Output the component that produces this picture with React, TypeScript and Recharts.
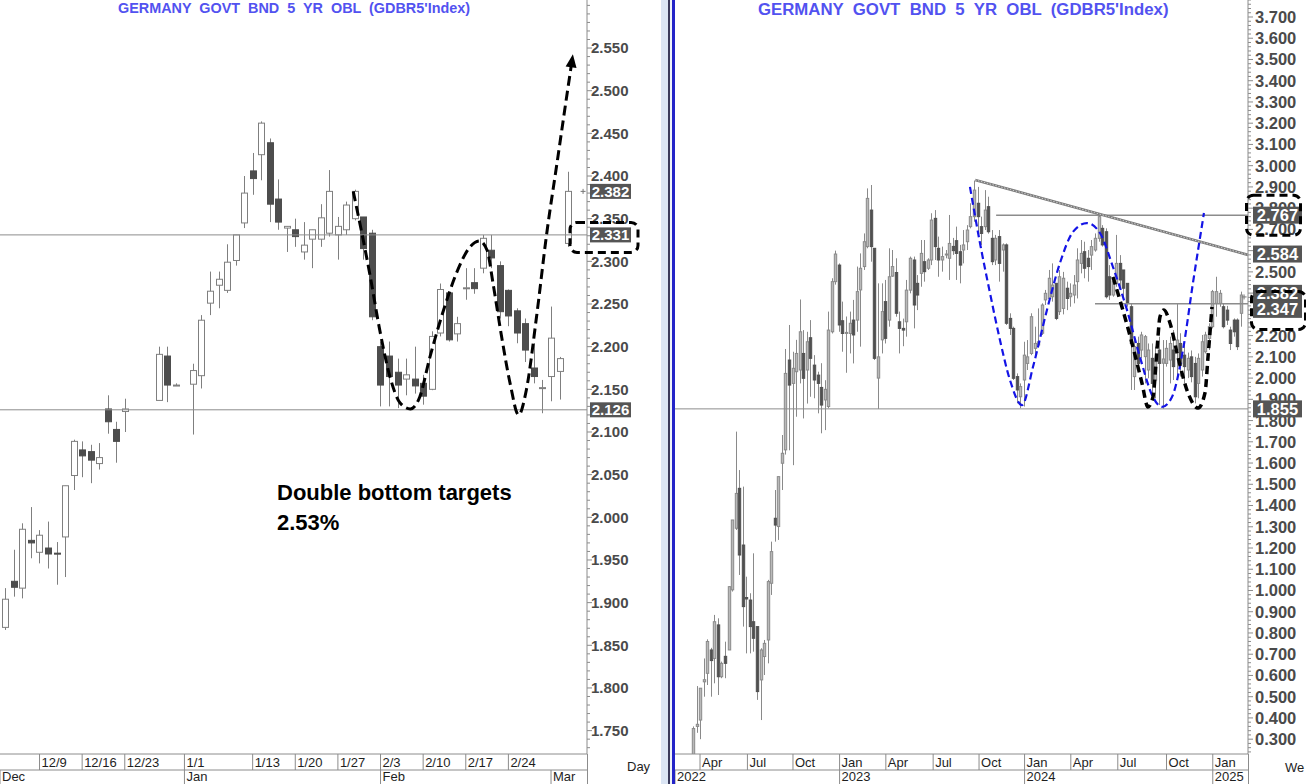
import React from "react";
import { ComposedChart, Bar, Line, XAxis, YAxis, ReferenceLine } from "recharts";

const FONT = '"Liberation Sans", Arial, Helvetica, sans-serif';
const AXIS_INK = "#4a4a4a";
const RULE = "#8c8c8c";
const TAG_BG = "#555555";
const TITLE_INK = "#5252f0";

// ---------- daily panel: session index 0 = Mon 2 Dec 2024, null = no print ----------
const dayOpen = [null, 1.871, 1.925, 1.917, 1.973, 1.959, 1.964, 1.958, 1.977, 2.049, 2.079, 2.077, 2.063, 2.127, 2.103, 2.124, null, null, null, 2.137, 2.189, 2.155, null, 2.156, 2.166, 2.251, 2.272, 2.266, 2.301, 2.345, 2.406, 2.425, 2.439, 2.373, 2.339, 2.337, 2.311, 2.326, 2.326, 2.333, 2.331, 2.337, 2.35, 2.352, 2.333, 2.2, 2.189, 2.17, 2.162, 2.162, 2.157, 2.15, 2.216, 2.263, 2.215, 2.268, 2.275, 2.292, 2.313, 2.295, 2.266, 2.242, 2.227, 2.175, 2.151, 2.165, 2.171, 2.321];
const dayHigh = [null, 1.917, 1.962, 1.993, 2.012, 1.985, 1.995, 1.971, 2.037, 2.091, 2.089, 2.085, 2.087, 2.143, 2.112, 2.139, null, null, null, 2.2, 2.2, 2.157, null, 2.18, 2.237, 2.288, 2.288, 2.32, 2.331, 2.4, 2.427, 2.464, 2.444, 2.396, 2.341, 2.35, 2.346, 2.337, 2.367, 2.407, 2.352, 2.37, 2.384, 2.352, 2.337, 2.206, 2.206, 2.186, 2.186, 2.2, 2.167, 2.218, 2.274, 2.264, 2.235, 2.292, 2.292, 2.331, 2.331, 2.3, 2.267, 2.245, 2.233, 2.204, 2.161, 2.247, 2.188, 2.405];
const dayLow = [null, 1.868, 1.907, 1.905, 1.952, 1.946, 1.94, 1.921, 1.93, 2.032, 2.047, 2.04, 2.056, 2.098, 2.064, 2.1, null, null, null, 2.137, 2.135, 2.154, null, 2.097, 2.151, 2.237, 2.245, 2.263, 2.295, 2.339, 2.378, 2.395, 2.346, 2.337, 2.311, 2.317, 2.302, 2.292, 2.317, 2.329, 2.302, 2.331, 2.348, 2.302, 2.231, 2.13, 2.13, 2.128, 2.143, 2.145, 2.132, 2.149, 2.212, 2.206, 2.206, 2.255, 2.262, 2.286, 2.292, 2.233, 2.224, 2.204, 2.182, 2.157, 2.122, 2.136, 2.138, 2.317];
const dayClose = [null, 1.904, 1.918, 1.986, 1.97, 1.979, 1.957, 1.957, 2.037, 2.089, 2.072, 2.067, 2.07, 2.112, 2.089, 2.127, null, null, null, 2.191, 2.155, 2.155, null, 2.172, 2.231, 2.265, 2.279, 2.299, 2.331, 2.38, 2.397, 2.462, 2.367, 2.346, 2.341, 2.329, 2.319, 2.337, 2.351, 2.382, 2.341, 2.366, 2.382, 2.315, 2.235, 2.155, 2.165, 2.155, 2.167, 2.154, 2.142, 2.212, 2.267, 2.208, 2.227, 2.269, 2.268, 2.327, 2.304, 2.241, 2.236, 2.216, 2.196, 2.165, 2.152, 2.21, 2.186, 2.382];

const dayTickPos = [5, 10, 15, 22, 30, 35, 40, 45, 50, 55, 60];
const dayTickLabel = ["12/9", "12/16", "12/23", "1/1", "1/13", "1/20", "1/27", "2/3", "2/10", "2/17", "2/24"];
const dayMonthPos = [0.364, 22, 45, 65];
const dayMonthLabel = ["Dec", "Jan", "Feb", "Mar"];
const dayYTicks = [1.75, 1.8, 1.85, 1.9, 1.95, 2.0, 2.05, 2.1, 2.15, 2.2, 2.25, 2.3, 2.35, 2.4, 2.45, 2.5, 2.55];
const dayYHidden: number[] = [];
const dayLevels = [2.331, 2.126];
const dayTags = [2.382, 2.331, 2.126];
const dayLast = { x: 67, y: 2.382 };

// hand-drawn double bottom sketch on the daily panel
const dayCurveX = [41.8, 43.8, 44.9, 46.1, 47.3, 48.5, 49.6, 50.8, 52.4, 53.9, 55.5, 56.6, 57.5, 58.2, 59.2, 60.2, 61.2, 62.1, 63.3, 64.5, 65.7, 66.6, 67.5];
const dayCurveY = [2.382, 2.282, 2.22, 2.165, 2.134, 2.127, 2.141, 2.188, 2.243, 2.286, 2.317, 2.324, 2.313, 2.274, 2.212, 2.157, 2.12, 2.149, 2.235, 2.333, 2.415, 2.477, 2.538];

// ---------- weekly panel: bar index 0 = week of 21 Mar 2022 ----------
const wkOpen = [0.22, 0.36, 0.39, 0.57, 0.61, 0.72, 0.68, 0.838, 0.594, 0.69, 0.72, 1.003, 1.293, 1.481, 1.214, 0.967, 0.955, 0.853, 0.83, 0.579, 0.689, 0.767, 1.034, 1.34, 1.301, 1.599, 1.662, 2.085, 1.975, 2.03, 2.038, 2.116, 2.038, 2.19, 2.061, 2.014, 1.956, 1.897, 1.866, 2.218, 2.454, 2.532, 2.27, 2.214, 2.21, 2.273, 2.273, 2.415, 2.525, 2.619, 2.791, 2.611, 2.0, 2.18, 2.36, 2.273, 2.48, 2.497, 2.265, 2.234, 2.265, 2.414, 2.556, 2.446, 2.493, 2.548, 2.517, 2.556, 2.752, 2.611, 2.556, 2.583, 2.564, 2.62, 2.647, 2.595, 2.603, 2.642, 2.713, 2.76, 2.823, 2.713, 2.713, 2.807, 2.658, 2.556, 2.666, 2.603, 2.627, 2.281, 2.234, 2.007, 1.912, 1.991, 2.069, 2.116, 2.14, 2.156, 2.211, 2.368, 2.375, 2.383, 2.446, 2.313, 2.328, 2.423, 2.383, 2.391, 2.454, 2.54, 2.595, 2.564, 2.579, 2.603, 2.658, 2.705, 2.689, 2.477, 2.391, 2.446, 2.54, 2.509, 2.446, 2.336, 2.007, 2.163, 2.132, 2.101, 2.038, 2.093, 1.991, 2.132, 2.07, 2.069, 2.085, 2.132, 2.132, 2.163, 2.108, 2.038, 2.1, 2.069, 1.975, 2.038, 2.124, 2.187, 2.242, 2.352, 2.352, 2.336, 2.32, 2.226, 2.273, 2.273, 2.305];
const wkHigh = [0.36, 0.55, 0.54, 0.68, 0.77, 0.73, 0.885, 0.869, 0.665, 0.759, 1.02, 1.332, 1.748, 1.567, 1.489, 1.065, 0.987, 1.175, 0.83, 0.728, 0.767, 1.05, 1.23, 1.473, 1.536, 1.732, 2.137, 2.25, 2.124, 2.18, 2.37, 2.226, 2.218, 2.273, 2.108, 2.03, 2.07, 1.99, 2.313, 2.47, 2.6, 2.54, 2.36, 2.29, 2.313, 2.368, 2.525, 2.587, 2.681, 2.893, 2.909, 2.611, 2.446, 2.446, 2.462, 2.611, 2.603, 2.564, 2.313, 2.28, 2.462, 2.572, 2.572, 2.485, 2.65, 2.65, 2.564, 2.776, 2.791, 2.666, 2.619, 2.603, 2.768, 2.66, 2.713, 2.627, 2.697, 2.72, 2.823, 2.93, 2.9, 2.76, 2.885, 2.854, 2.697, 2.674, 2.697, 2.634, 2.634, 2.305, 2.242, 2.022, 1.975, 2.171, 2.179, 2.305, 2.242, 2.328, 2.352, 2.415, 2.509, 2.54, 2.446, 2.509, 2.5, 2.454, 2.446, 2.485, 2.611, 2.65, 2.642, 2.603, 2.65, 2.681, 2.776, 2.72, 2.705, 2.532, 2.477, 2.674, 2.579, 2.509, 2.446, 2.352, 2.195, 2.195, 2.218, 2.203, 2.163, 2.163, 2.148, 2.195, 2.179, 2.179, 2.195, 2.226, 2.352, 2.211, 2.163, 2.12, 2.13, 2.1, 2.116, 2.203, 2.218, 2.258, 2.415, 2.477, 2.415, 2.352, 2.34, 2.242, 2.281, 2.281, 2.407];
const wkLow = [0.18, 0.33, 0.3, 0.5, 0.555, 0.5, 0.563, 0.508, 0.587, 0.587, 0.72, 0.995, 1.285, 1.073, 0.83, 0.704, 0.704, 0.712, 0.485, 0.39, 0.602, 0.657, 0.979, 1.23, 1.238, 1.473, 1.64, 1.66, 1.59, 1.818, 1.975, 1.81, 1.88, 1.912, 1.905, 1.834, 1.74, 1.755, 1.858, 2.21, 2.44, 2.218, 2.124, 2.025, 2.116, 2.069, 2.218, 2.148, 2.509, 2.611, 2.548, 2.085, 1.855, 2.116, 2.163, 2.242, 2.477, 2.289, 2.116, 2.15, 2.195, 2.399, 2.234, 2.32, 2.43, 2.454, 2.509, 2.532, 2.556, 2.477, 2.501, 2.564, 2.462, 2.58, 2.462, 2.446, 2.54, 2.603, 2.705, 2.736, 2.674, 2.627, 2.697, 2.68, 2.532, 2.532, 2.454, 2.501, 2.25, 2.203, 1.991, 1.881, 1.858, 1.866, 2.038, 2.108, 2.108, 2.148, 2.203, 2.344, 2.368, 2.36, 2.273, 2.297, 2.3, 2.32, 2.336, 2.352, 2.375, 2.493, 2.47, 2.454, 2.509, 2.595, 2.642, 2.619, 2.375, 2.368, 2.383, 2.43, 2.415, 2.368, 2.336, 1.944, 1.944, 2.038, 2.093, 1.975, 1.999, 1.912, 1.905, 1.873, 1.855, 2.054, 1.975, 1.991, 1.991, 2.007, 1.975, 2.0, 1.98, 1.881, 1.905, 2.007, 2.116, 2.132, 2.234, 2.289, 2.336, 2.234, 2.25, 2.132, 2.195, 2.132, 2.242];
const wkClose = [0.35, 0.37, 0.54, 0.58, 0.76, 0.67, 0.853, 0.594, 0.657, 0.657, 1.018, 1.332, 1.457, 1.167, 0.924, 0.96, 0.83, 0.775, 0.524, 0.72, 0.751, 1.042, 1.183, 1.308, 1.536, 1.646, 2.022, 1.967, 2.046, 2.116, 2.218, 1.999, 2.171, 2.093, 1.991, 1.975, 1.873, 1.947, 2.226, 2.454, 2.584, 2.25, 2.21, 2.215, 2.258, 2.203, 2.407, 2.517, 2.642, 2.846, 2.619, 2.093, 2.1, 2.313, 2.187, 2.477, 2.525, 2.305, 2.234, 2.226, 2.414, 2.564, 2.344, 2.391, 2.587, 2.501, 2.556, 2.744, 2.619, 2.556, 2.572, 2.584, 2.634, 2.6, 2.587, 2.532, 2.627, 2.697, 2.76, 2.885, 2.76, 2.681, 2.791, 2.689, 2.548, 2.658, 2.54, 2.627, 2.258, 2.234, 1.999, 1.944, 1.96, 2.108, 2.1, 2.289, 2.163, 2.171, 2.344, 2.399, 2.47, 2.438, 2.281, 2.477, 2.47, 2.375, 2.399, 2.438, 2.556, 2.587, 2.517, 2.525, 2.619, 2.658, 2.76, 2.627, 2.383, 2.391, 2.454, 2.54, 2.462, 2.423, 2.352, 2.163, 2.148, 2.069, 2.203, 2.195, 2.132, 1.975, 2.077, 2.069, 2.09, 2.14, 2.163, 2.054, 2.179, 2.069, 2.054, 2.093, 2.007, 1.912, 2.093, 2.171, 2.203, 2.242, 2.407, 2.407, 2.399, 2.242, 2.273, 2.163, 2.218, 2.148, 2.391];

const wkTickPos = [1.97, 15.3, 28.1, 41.2, 54.2, 67.5, 80.4, 93.2, 106.2, 119.4, 133.1, 146.1];
const wkTickLabel = ["Apr", "Jul", "Oct", "Jan", "Apr", "Jul", "Oct", "Jan", "Apr", "Jul", "Oct", "Jan"];
const wkYearPos = [-5.06, 41.2, 93.2, 146.1];
const wkYearLabel = ["2022", "2023", "2024", "2025"];
const wkYTicks = [0.3, 0.4, 0.5, 0.6, 0.7, 0.8, 0.9, 1.0, 1.1, 1.2, 1.3, 1.4, 1.5, 1.6, 1.7, 1.8, 1.9, 2.0, 2.1, 2.2, 2.3, 2.4, 2.5, 2.6, 2.7, 2.8, 2.9, 3.0, 3.1, 3.2, 3.3, 3.4, 3.5, 3.6, 3.7];
const wkYHidden = [2.3, 2.4, 2.6]; // scale labels fully covered by the price tags
const wkTags = [2.767, 2.584, 2.382, 2.347, 1.855];
const wkLast = { x: 154.9, y: 2.382 };

// lines drawn on the weekly panel
const wkTrendX = [79.3, 156];
const wkTrendY = [2.933, 2.58];
const wkHighLineStart = 85.2;
const wkHighLine = 2.767;
const wkMidLineStart = 113;
const wkMidLine = 2.35;
const wkSupport = 1.855;
const wkBlueX = [77.85, 80.66, 83.47, 86.28, 89.09, 92.47, 95.56, 99.49, 103.15, 106.8, 110.74, 114.39, 118.04, 121.98, 125.63, 129.29, 131.82, 134.63, 137.72, 140.53, 143.62];
const wkBlueY = [2.9, 2.636, 2.401, 2.179, 1.991, 1.873, 2.052, 2.321, 2.542, 2.688, 2.73, 2.683, 2.523, 2.321, 2.099, 1.911, 1.864, 1.911, 2.132, 2.448, 2.777];
const wkBlackX = [118.04, 120.57, 123.38, 126.19, 127.88, 129.29, 130.41, 131.25, 132.38, 134.07, 136.32, 139.13, 141.94, 143.91, 144.76, 145.88];
const wkBlackY = [2.476, 2.335, 2.165, 1.977, 1.864, 1.911, 2.132, 2.288, 2.321, 2.259, 2.099, 1.93, 1.859, 1.93, 2.099, 2.335];

const DAY_X: [number, number] = [0.364, 69.22];
const DAY_Y: [number, number] = [1.7226, 2.6063];
const WK_X: [number, number] = [-5.06, 156];
const WK_Y: [number, number] = [0.2302, 3.78];

const dayRows = dayOpen
  .map((o, i) => ({ x: i, o, h: dayHigh[i], l: dayLow[i], c: dayClose[i] }))
  .filter((r) => r.o != null);
const wkRows = wkOpen.map((o, i) => ({ x: i, o, h: wkHigh[i], l: wkLow[i], c: wkClose[i] }));
const dayCurve = dayCurveX.map((x, i) => ({ x, v: dayCurveY[i] }));
const wkBlue = wkBlueX.map((x, i) => ({ x, v: wkBlueY[i] }));
const wkBlack = wkBlackX.map((x, i) => ({ x, v: wkBlackY[i] }));

function marks(from: number, to: number, step: number) {
  const out: number[] = [];
  for (let v = from; v <= to + 1e-9; v += step) out.push(Math.round(v * 1000) / 1000);
  return out;
}
const dayYMarks = marks(1.73, 2.6, 0.01);
const wkYMarks = marks(0.24, 3.78, 0.02);
const near = (list: number[], v: number) => list.some((m) => Math.abs(m - v) < 1e-6);

function candle(upFill: string, upStroke: string, downFill: string, wick: string, bodyW: number) {
  return (props: any) => {
    const { x, width, payload } = props;
    let { y, height } = props;
    if (height < 0) {
      y += height;
      height = -height;
    }
    const { o, h, l, c } = payload;
    const k = h - l > 0 ? height / (h - l) : 0;
    const yo = y + (h - o) * k;
    const yc = y + (h - c) * k;
    const up = c >= o;
    const cx = Math.round(x + (width || 0) / 2) + 0.5;
    return (
      <g>
        <line x1={cx} x2={cx} y1={y} y2={y + height} stroke={wick} strokeWidth={1} />
        <rect
          x={cx - bodyW / 2}
          y={Math.min(yo, yc)}
          width={bodyW}
          height={Math.max(Math.abs(yo - yc), 1)}
          fill={up ? upFill : downFill}
          stroke={up ? upStroke : downFill}
          strokeWidth={1}
        />
      </g>
    );
  };
}
const dayCandle = candle("#ffffff", "#7f7f7f", "#4d4d4d", "#7f7f7f", 6);
const wkCandle = candle("#b9b9b9", "#8a8a8a", "#505050", "#8a8a8a", 2.4);

function yTick(majors: number[], hidden: number[], fs: number, gap: number) {
  return (p: any) => {
    const v = p.payload.value;
    const ax = p.x - 4;
    const major = near(majors, v);
    return (
      <g>
        <line x1={ax} x2={ax + (major ? 5 : 3)} y1={p.y} y2={p.y} stroke={RULE} strokeWidth={1} />
        {major && !near(hidden, v) && (
          <text x={ax + gap} y={p.y + fs * 0.36} fontFamily={FONT} fontWeight={700} fontSize={fs} fill={AXIS_INK}>
            {v.toFixed(3)}
          </text>
        )}
      </g>
    );
  };
}

// little inward ticks along the left frame of each plot
const edgeTick = (p: any) => <line x1={p.x} x2={p.x + 2} y1={p.y} y2={p.y} stroke={RULE} strokeWidth={1} />;

function rowTick(pos: number[], labels: string[], h: number) {
  return (p: any) => {
    const i = pos.findIndex((v) => Math.abs(v - p.payload.value) < 1e-6);
    return (
      <g>
        <line x1={p.x} x2={p.x} y1={p.y} y2={p.y + h} stroke={RULE} strokeWidth={1} />
        <text x={p.x + 2} y={p.y + h - 3} fontFamily={FONT} fontSize={13} fill="#1e1e1e">
          {labels[i]}
        </text>
      </g>
    );
  };
}

type TagOpt = { dx: number; w: number; h: number; fs: number; dy?: number; box?: number[] };
function tag(text: string, t: TagOpt) {
  return (p: any) => {
    const vb = p.viewBox || {};
    const ax = (vb.x || 0) + (vb.width || 0);
    const cy = (vb.y || 0) + (t.dy || 0);
    return (
      <g>
        <rect x={ax + t.dx} y={cy - t.h / 2} width={t.w} height={t.h} fill={TAG_BG} />
        <text x={ax + t.dx + t.w / 2} y={cy + t.fs * 0.36} textAnchor="middle" fontFamily={FONT} fontWeight={700} fontSize={t.fs} fill="#ffffff">
          {text}
        </text>
        {t.box && (
          <rect x={ax + t.box[0]} y={cy + t.box[1]} width={t.box[2]} height={t.box[3]} rx={7} fill="none" stroke="#000" strokeWidth={3} strokeDasharray="8 5" />
        )}
      </g>
    );
  };
}

// "+" mark that sits just right of the last bar
const lastMark = (xOff: number) => (p: any) => {
  const vb = p.viewBox || {};
  const x = (vb.x || 0) + xOff;
  const y = vb.y || 0;
  return (
    <g stroke="#777" strokeWidth={1}>
      <line x1={x - 2.5} x2={x + 2.5} y1={y} y2={y} />
      <line x1={x} x2={x} y1={y - 2.5} y2={y + 2.5} />
    </g>
  );
};

const arrowDot = (p: any) =>
  p.index === dayCurve.length - 1 ? (
    <polygon key="tip" points="0,-4 -5.5,9 5.5,9" transform={`translate(${p.cx},${p.cy}) rotate(8)`} fill="#000" />
  ) : (
    <g key={`d${p.index}`} />
  );

function DailyPanel() {
  return (
    <ComposedChart width={660} height={784} data={dayRows} margin={{ top: 0, right: 0, bottom: 0, left: 0 }}>
      <XAxis dataKey="x" type="number" domain={DAY_X} allowDataOverflow ticks={dayTickPos} interval={0}
        tick={rowTick(dayTickPos, dayTickLabel, 16)} tickLine={false} tickSize={0} tickMargin={0} height={16} axisLine={{ stroke: RULE }} />
      <XAxis xAxisId="month" dataKey="x" type="number" domain={DAY_X} allowDataOverflow ticks={dayMonthPos} interval={0}
        tick={rowTick(dayMonthPos, dayMonthLabel, 14)} tickLine={false} tickSize={0} tickMargin={0} height={14} axisLine={{ stroke: RULE }} />
      <YAxis orientation="right" type="number" domain={DAY_Y} allowDataOverflow ticks={dayYMarks} interval={0}
        tick={yTick(dayYTicks, dayYHidden, 15, 4)} tickLine={false} tickSize={4} tickMargin={0} width={73} axisLine={{ stroke: RULE }} />
      <YAxis yAxisId="edge" orientation="left" mirror width={0} type="number" domain={DAY_Y} allowDataOverflow ticks={dayYMarks} interval={0}
        tick={edgeTick} tickLine={false} tickSize={0} tickMargin={0} axisLine={false} />
      {dayLevels.map((v) => (
        <ReferenceLine key={`lv${v}`} y={v} stroke={RULE} strokeWidth={1} />
      ))}
      <Bar dataKey={(r: any) => [r.l, r.h]} barSize={7} shape={dayCandle} isAnimationActive={false} />
      <ReferenceLine segment={[{ x: dayLast.x, y: dayLast.y }, { x: dayLast.x + 1.8, y: dayLast.y }]} stroke="none" label={lastMark(15)} />
      <Line data={dayCurve} dataKey="v" type="monotone" stroke="#000" strokeWidth={3} strokeDasharray="10 5"
        dot={arrowDot} activeDot={false} isAnimationActive={false} />
    </ComposedChart>
  );
}

function WeeklyPanel() {
  return (
    <ComposedChart width={631} height={784} data={wkRows} margin={{ top: 0, right: 0, bottom: 0, left: 0 }}>
      <XAxis dataKey="x" type="number" domain={WK_X} allowDataOverflow ticks={wkTickPos} interval={0}
        tick={rowTick(wkTickPos, wkTickLabel, 16)} tickLine={false} tickSize={0} tickMargin={0} height={16} axisLine={{ stroke: RULE }} />
      <XAxis xAxisId="year" dataKey="x" type="number" domain={WK_X} allowDataOverflow ticks={wkYearPos} interval={0}
        tick={rowTick(wkYearPos, wkYearLabel, 14)} tickLine={false} tickSize={0} tickMargin={0} height={14} axisLine={{ stroke: RULE }} />
      <YAxis orientation="right" type="number" domain={WK_Y} allowDataOverflow ticks={wkYMarks} interval={0}
        tick={yTick(wkYTicks, wkYHidden, 16.5, 7)} tickLine={false} tickSize={4} tickMargin={0} width={58} axisLine={{ stroke: RULE }} />
      <YAxis yAxisId="edge" orientation="left" mirror width={0} type="number" domain={WK_Y} allowDataOverflow ticks={wkYMarks} interval={0}
        tick={edgeTick} tickLine={false} tickSize={0} tickMargin={0} axisLine={false} />
      <ReferenceLine y={wkSupport} stroke={RULE} strokeWidth={1} />
      <ReferenceLine segment={[{ x: wkHighLineStart, y: wkHighLine }, { x: WK_X[1], y: wkHighLine }]} stroke={RULE} strokeWidth={1.5} ifOverflow="hidden" />
      <ReferenceLine segment={[{ x: wkMidLineStart, y: wkMidLine }, { x: WK_X[1], y: wkMidLine }]} stroke={RULE} strokeWidth={1.5} ifOverflow="hidden" />
      <Bar dataKey={(r: any) => [r.l, r.h]} barSize={3} shape={wkCandle} isAnimationActive={false} />
      <ReferenceLine segment={[{ x: wkLast.x, y: wkLast.y }, { x: wkLast.x + 0.5, y: wkLast.y }]} stroke="none" label={lastMark(0)} />
      <ReferenceLine segment={[{ x: wkTrendX[0], y: wkTrendY[0] }, { x: wkTrendX[1], y: wkTrendY[1] }]} stroke="#7a7a7a" strokeWidth={2.6} ifOverflow="hidden" />
      <ReferenceLine segment={[{ x: wkTrendX[0], y: wkTrendY[0] }, { x: wkTrendX[1], y: wkTrendY[1] }]} stroke="#e6e6e6" strokeWidth={0.8} strokeDasharray="1.5 1.5" ifOverflow="hidden" />
      <Line data={wkBlue} dataKey="v" type="monotone" stroke="#1414e6" strokeWidth={2.2} strokeDasharray="7 4" dot={false} activeDot={false} isAnimationActive={false} />
      <Line data={wkBlack} dataKey="v" type="monotone" stroke="#000" strokeWidth={3.5} strokeDasharray="8 5" dot={false} activeDot={false} isAnimationActive={false} />
    </ComposedChart>
  );
}

// price tags sit above the value scale, so they get their own transparent layer on the same y scale
function TagLayer(props: { width: number; axisW: number; yDomain: [number, number]; rows: any[]; tags: number[]; opt: (v: number) => TagOpt }) {
  return (
    <ComposedChart width={props.width} height={784} data={props.rows} margin={{ top: 0, right: props.axisW, bottom: 30, left: 0 }}>
      <XAxis hide dataKey="x" type="number" />
      <YAxis hide type="number" domain={props.yDomain} allowDataOverflow />
      {props.tags.map((v) => (
        <ReferenceLine key={`tg${v}`} y={v} stroke="none" ifOverflow="visible" label={tag(v.toFixed(3), props.opt(v))} />
      ))}
    </ComposedChart>
  );
}

const dayTagOpt = (v: number): TagOpt => ({ dx: 3, w: 41, h: 15, fs: 15, box: v === 2.331 ? [-17, -12.5, 68, 30] : undefined });
const wkTagOpt = (v: number): TagOpt => ({
  dx: 5,
  w: 49,
  h: 17,
  fs: 16.5,
  dy: v === 2.382 ? -3.6 : v === 2.347 ? 5 : 0,
  box: v === 2.767 ? [-1.5, -20, 54, 40] : v === 2.347 ? [3.5, -18, 54, 38] : undefined,
});

export default function App() {
  const abs = (s: React.CSSProperties): React.CSSProperties => ({ position: "absolute", ...s });
  return (
    <div style={abs({ left: 0, top: 0, width: 1306, height: 784, background: "#fff", overflow: "hidden", fontFamily: FONT })}>
      <div style={abs({ left: 0, top: 0 })}>
        <DailyPanel />
      </div>
      <div style={abs({ left: 0, top: 0 })}>
        <TagLayer width={660} axisW={73} yDomain={DAY_Y} rows={dayRows} tags={dayTags} opt={dayTagOpt} />
      </div>
      <div style={abs({ left: 675, top: 0 })}>
        <WeeklyPanel />
      </div>
      <div style={abs({ left: 675, top: 0 })}>
        <TagLayer width={631} axisW={58} yDomain={WK_Y} rows={wkRows} tags={wkTags} opt={wkTagOpt} />
      </div>

      <div style={abs({ left: 587, top: 754, width: 1, height: 30, background: RULE })} />
      <div style={abs({ left: 1248, top: 754, width: 1, height: 30, background: RULE })} />
      <div style={abs({ left: 661, top: 0, width: 7, height: 784, background: "#dbe5f4" })} />
      <div style={abs({ left: 668, top: 0, width: 2, height: 784, background: "#3a3a5a" })} />
      <div style={abs({ left: 670, top: 0, width: 2, height: 784, background: "#eef2f9" })} />
      <div style={abs({ left: 672, top: 0, width: 3, height: 784, background: "#2323c8" })} />

      <div style={abs({ left: 118, top: 0, fontSize: 14.4, fontWeight: 700, color: TITLE_INK, whiteSpace: "pre", lineHeight: "17px" })}>
        {"GERMANY  GOVT  BND  5  YR  OBL  (GDBR5'Index)"}
      </div>
      <div style={abs({ left: 758, top: 0, fontSize: 16.8, fontWeight: 700, color: TITLE_INK, whiteSpace: "pre", lineHeight: "19px" })}>
        {"GERMANY  GOVT  BND  5  YR  OBL  (GDBR5'Index)"}
      </div>

      <div style={abs({ left: 277, top: 478, fontSize: 22, fontWeight: 700, color: "#000", lineHeight: "30px" })}>
        <div>Double bottom targets</div>
        <div>2.53%</div>
      </div>

      <div style={abs({ left: 627, top: 759, fontSize: 13, color: "#1e1e1e" })}>Day</div>
      <div style={abs({ left: 1285, top: 760, fontSize: 13, color: "#1e1e1e" })}>We</div>
    </div>
  );
}
